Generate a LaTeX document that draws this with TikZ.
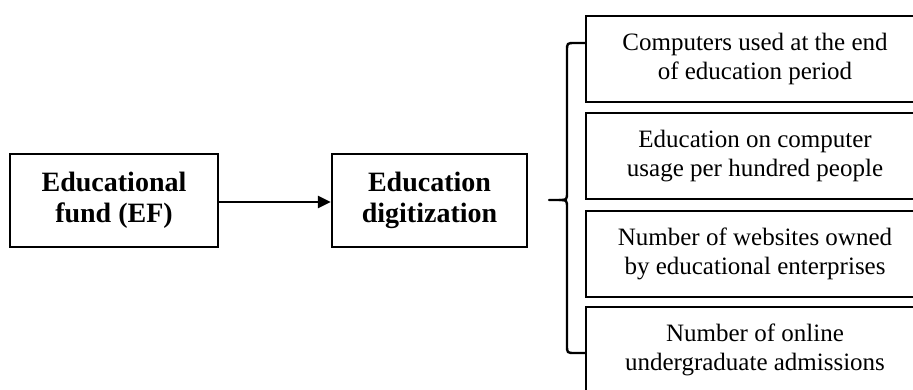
\documentclass[tikz,border=0pt]{standalone}
\usepackage{fontspec}
\setmainfont{Liberation Serif}
\usetikzlibrary{arrows.meta}
\begin{document}
\begin{tikzpicture}[x=1pt,y=-1pt,
  line width=2.4pt,
  mainbox/.style={draw, rectangle, inner sep=0pt, align=center,
    font=\bfseries\fontsize{28}{31}\selectfont},
  itembox/.style={draw, rectangle, inner sep=0pt, align=center,
    minimum width=338pt, minimum height=86pt,
    font=\fontsize{25}{29}\selectfont},
  link/.style={-{Triangle[length=13pt,width=12pt]}}
]
\useasboundingbox (0,0) rectangle (913,389);
\clip (0,0) rectangle (913,389);

% cause and mediator
\node[mainbox, minimum width=208pt, minimum height=93pt] (ef) at (114,200.5)
  {Educational\\fund (EF)};
\node[mainbox, minimum width=195pt, minimum height=93pt] (ed) at (429.5,200.5)
  {Education\\digitization};
\draw[link] (ef.east |- 0,202) -- (ed.west |- 0,202);

% indicators
\node[itembox] (i1) at (755,59)  {Computers used at the end\\of education period};
\node[itembox] (i2) at (755,156) {Education on computer\\usage per hundred people};
\node[itembox] (i3) at (755,254) {Number of websites owned\\by educational enterprises};
\node[itembox] (i4) at (755,350) {Number of online\\undergraduate admissions};

% brace grouping the indicators
\coordinate (btop) at (i1.west |- 0,43);
\coordinate (bbot) at (i4.west |- 0,353);
\coordinate (btip) at (549,200);
\draw[line cap=round, line join=round]
  (btop) -- (575,43) .. controls (567,43) .. (567,51) -- (567,192)
  .. controls (567,200) .. (559,200) -- (btip);
\draw[line cap=round, line join=round]
  (559,200) .. controls (567,200) .. (567,208) -- (567,345)
  .. controls (567,353) .. (575,353) -- (bbot);
\end{tikzpicture}
\end{document}
